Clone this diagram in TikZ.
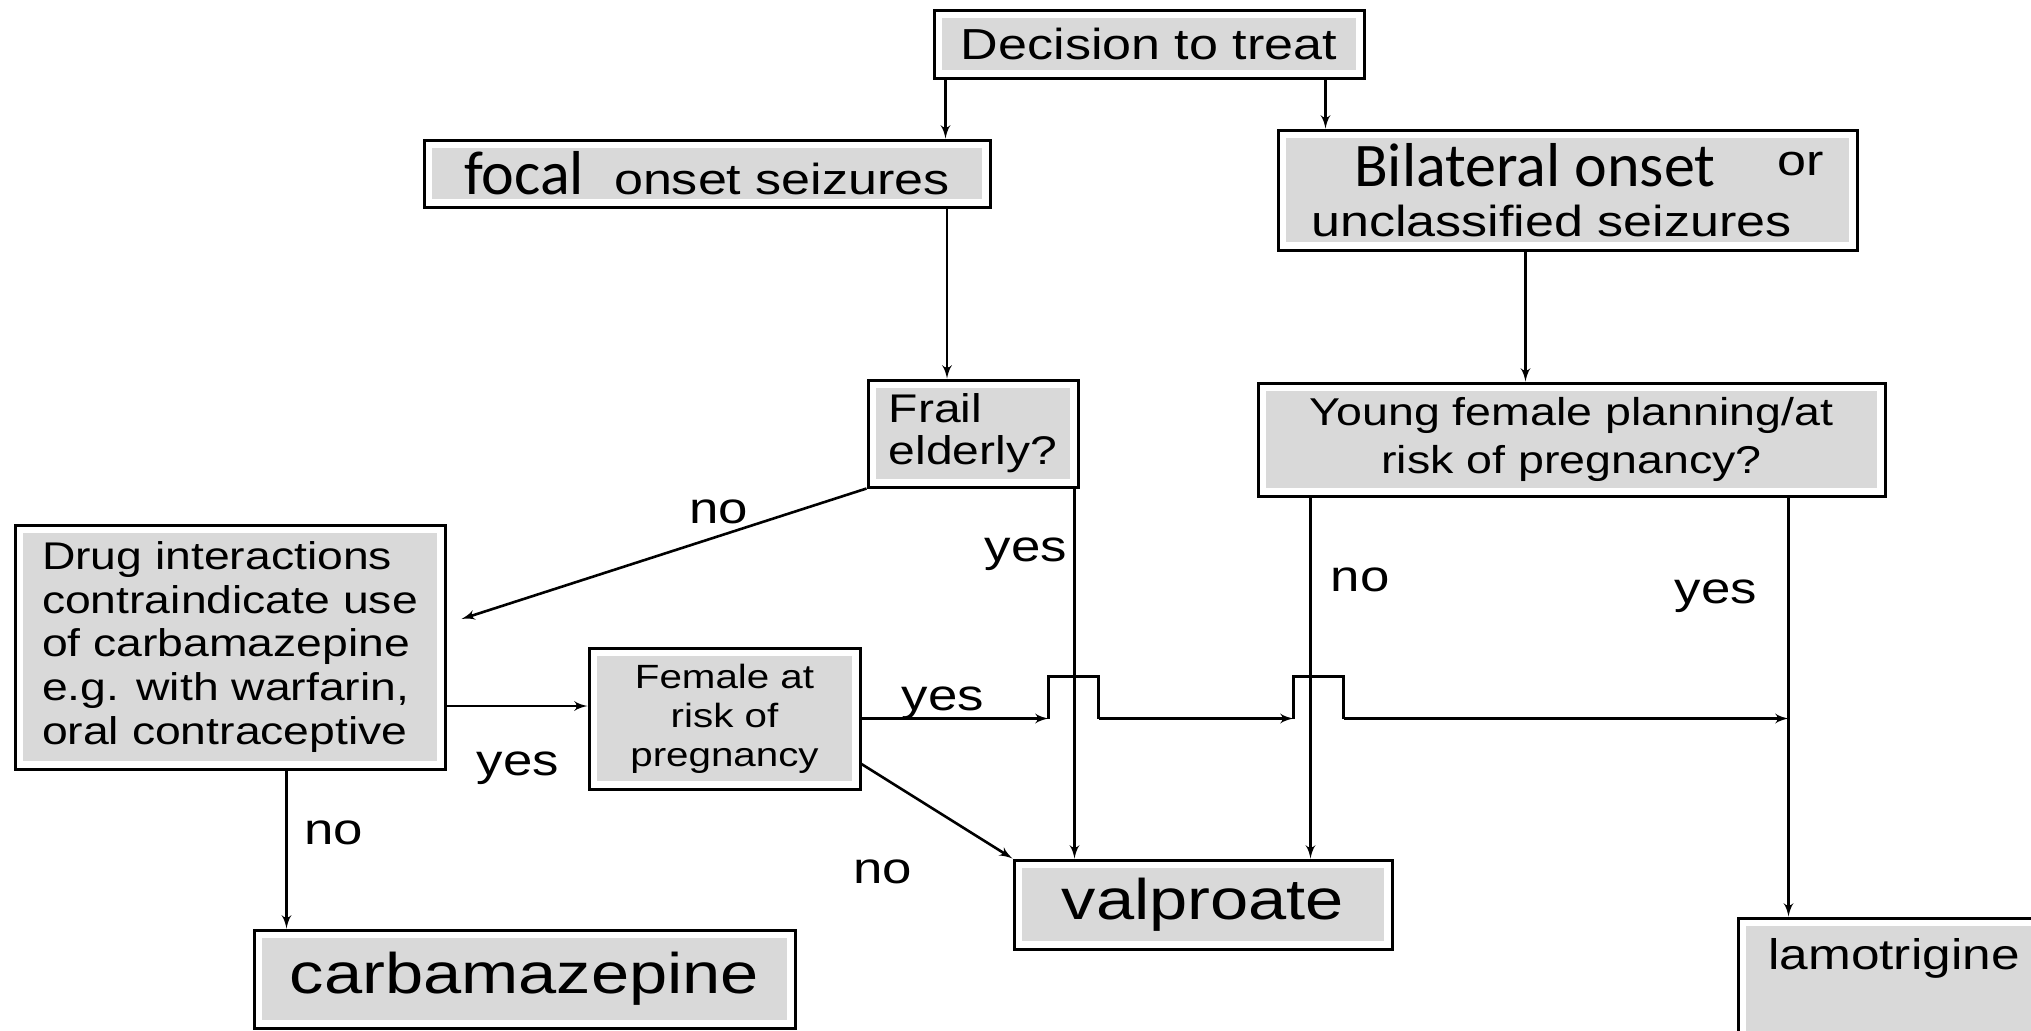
\documentclass[tikz,border=0pt]{standalone}
\usepackage{fontspec}
\setmainfont{Liberation Sans}[FakeStretch=1.2]
\newfontfamily\carlito{Carlito}
\usepackage{tikz}
\usetikzlibrary{arrows,positioning}
\definecolor{boxgray}{RGB}{217,217,217}

\begin{document}
\begin{tikzpicture}[->,>=latex',line width=1.3pt,x=0.5pt,y=-0.5pt,
    font=\fontsize{21.7pt}{26pt}\selectfont,
    gbox/.style={rectangle, draw, line width=1.5pt, fill=white, inner sep=0pt,
      path picture={\fill[boxgray] ([shift={(4pt,4pt)}]path picture bounding box.south west)
        rectangle ([shift={(-4pt,-4pt)}]path picture bounding box.north east);}},
    lbl/.style={font=\fontsize{22pt}{26pt}\selectfont}]

    \clip (0,0) rectangle (2031,1030);

    \node[gbox, minimum width=215pt, minimum height=34pt] (decision) at (1149,44)
    {Decision to treat};
    \node[gbox, minimum width=283pt, minimum height=33.5pt] (focal) at (707,173.5)
    {{\carlito\fontsize{31pt}{31pt}\selectfont focal}\hspace{15pt}onset seizures};
    \node[gbox, minimum width=289.5pt, minimum height=60pt, align=left] (bilateral) at (1567.5,190)
    {\hspace*{21.5pt}{\carlito\fontsize{31pt}{31pt}\selectfont Bilateral onset}\hspace{31pt}\raisebox{5.5pt}{or}\\[-1pt]unclassified seizures};

    \node[gbox, minimum width=105pt, minimum height=53.5pt, align=left,
      font=\fontsize{20pt}{21pt}\selectfont] (frail) at (973,433.5)
    {Frail\\elderly?};
    \node[gbox, minimum width=313.5pt, minimum height=56.5pt, align=center,
      font=\fontsize{19.4pt}{24pt}\selectfont] (young) at (1571.5,439.5)
    {Young female planning/at\\risk of pregnancy?};

    \node[gbox, minimum width=215pt, minimum height=122pt, align=left,
      font=\fontsize{19.3pt}{21.9pt}\selectfont] (drug) at (230,647)
    {Drug interactions\\contraindicate use\\of carbamazepine\\e.g. with warfarin,\\oral contraceptive};
    \node[gbox, minimum width=135.5pt, minimum height=70.5pt, align=center,
      font=\fontsize{16.8pt}{19.5pt}\selectfont] (female) at (724.5,718.5)
    {Female at\\risk of\\pregnancy};

    \node[gbox, minimum width=189pt, minimum height=44.5pt,
      font=\fontsize{28.6pt}{32pt}\selectfont] (valproate) at (1203,904.5) {valproate};
    \node[gbox, minimum width=270.5pt, minimum height=49pt,
      font=\fontsize{28.6pt}{32pt}\selectfont] (carbamazepine) at (524.5,979) {carbamazepine};
    \node[gbox, minimum width=156pt, text height=25.5pt, text depth=40.5pt,
      font=\fontsize{21.4pt}{24pt}\selectfont] (lamotrigine) at (1894,984) {lamotrigine};

    % top of the tree
    \draw ([xshift=6.5pt]decision.south west) -- ([xshift=6.5pt]decision.south west |- focal.north);
    \draw ([xshift=-20pt]decision.south east) -- ([xshift=-20pt]decision.south east |- bilateral.north);
    \draw ([xshift=-13pt]frail.north |- focal.south) -- ([xshift=-13pt]frail.north);
    \draw ([xshift=-21pt]bilateral.south) -- ([xshift=-21pt]bilateral.south |- young.north);

    % frail elderly?
    \draw (frail.south west) -- ([xshift=7.5pt,yshift=14pt]drug.east);
    \draw ([xshift=-2.5pt]frail.south east) -- ([xshift=-2.5pt]frail.south east |- valproate.north);

    % young female?
    \coordinate (yesline) at ([xshift=-49pt]young.south east);
    \draw ([xshift=27pt]young.south west) -- ([xshift=27pt]young.south west |- valproate.north);
    \draw (yesline) -- (yesline |- lamotrigine.north);

    % drug interactions
    \draw ([yshift=6.25pt]female.west -| drug.east) -- ([yshift=6.25pt]female.west);
    \draw ([xshift=17pt]carbamazepine.north west |- drug.south) -- ([xshift=17pt]carbamazepine.north west);

    % female at risk
    \draw ([yshift=-22.75pt]female.east) -- (valproate.north west);
    \draw (female.east) -- ++(93.5pt,0) coordinate (hop1);
    \draw[-] (hop1) -- ++(0,21pt) -- ++(25pt,0) -- ++(0,-21pt) coordinate (hop1e);
    \draw (hop1e) -- ++(97.5pt,0) coordinate (hop2);
    \draw[-] (hop2) -- ++(0,21pt) -- ++(25pt,0) -- ++(0,-21pt) coordinate (hop2e);
    \draw (hop2e) -- (hop2e -| yesline);

    % labels
    \node[lbl] (nofrail) at (719,512) {no};
    \node[lbl] (yesfrail) at (1026,554) {yes};
    \node[lbl] (noyoung) at (1360,580) {no};
    \node[lbl] (yesyoung) at (1716,596) {yes};
    \node[lbl] (yesdrug) at (518,768) {yes};
    \node[lbl] (nodrug) at (334,833) {no};
    \node[lbl] (nofemale) at (883,872) {no};
    \node[lbl] (yesfemale) at (943,703) {yes};

\end{tikzpicture}
\end{document}
